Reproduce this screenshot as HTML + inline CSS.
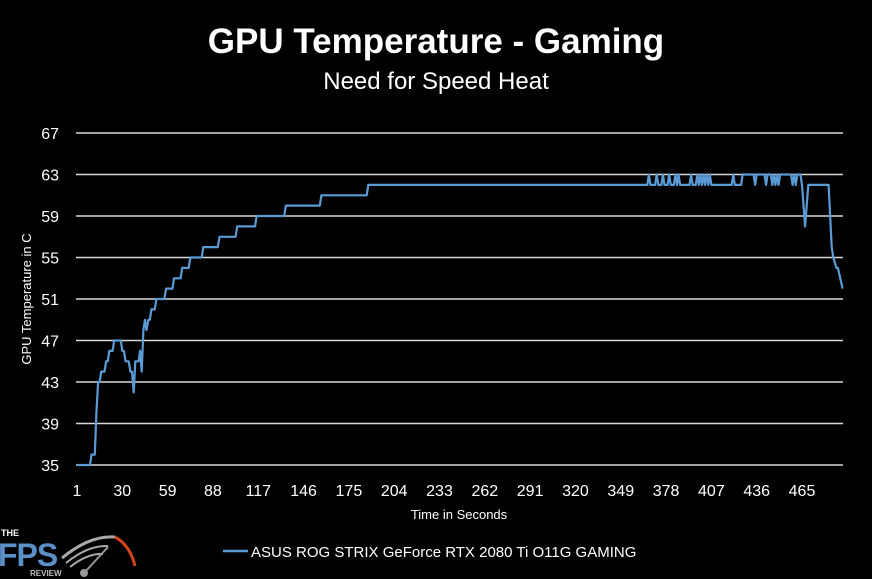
<!DOCTYPE html>
<html><head><meta charset="utf-8"><style>
html,body{margin:0;padding:0;background:#000;}
svg{display:block;font-family:"Liberation Sans",sans-serif;}
</style></head><body>
<svg id="chart" width="872" height="579" viewBox="0 0 872 579">
<rect width="872" height="579" fill="#000"/>
<text x="436" y="53" text-anchor="middle" fill="#fff" font-size="35" font-weight="bold">GPU Temperature - Gaming</text>
<text x="436" y="89" text-anchor="middle" fill="#fff" font-size="24">Need for Speed Heat</text>
<g id="grid"></g>
<g id="yticks"></g>
<g id="xticks"></g>
<g id="series"></g>
<text x="459" y="519" text-anchor="middle" fill="#fff" font-size="13">Time in Seconds</text>
<text transform="translate(31,299) rotate(-90)" text-anchor="middle" fill="#fff" font-size="13">GPU Temperature in C</text>
<g>
<line x1="223" y1="551" x2="248" y2="551" stroke="#5b9bd5" stroke-width="2.5"/>
<text x="251" y="557" fill="#fff" font-size="15">ASUS ROG STRIX GeForce RTX 2080 Ti O11G GAMING</text>
</g>
<g>
<text x="1" y="536" fill="#fff" font-size="9" font-weight="bold">THE</text>
<text x="-2" y="566" fill="#5b8fc7" font-size="32" font-weight="bold" letter-spacing="-1">FPS</text>
<text x="30" y="576" fill="#bbb" font-size="8" font-weight="bold">REVIEW</text>
<path d="M62 558 Q90 535 115 537" stroke="#aaa" stroke-width="3" fill="none"/>
<path d="M66 563 Q88 545 108 546" stroke="#aaa" stroke-width="2" fill="none"/>
<path d="M70 567 Q88 553 103 554" stroke="#aaa" stroke-width="2" fill="none"/>
<path d="M115 537 Q130 545 135 566" stroke="#d0451b" stroke-width="3" fill="none"/>
<line x1="85" y1="572" x2="108" y2="547" stroke="#999" stroke-width="2"/>
<circle cx="84" cy="573" r="4" fill="#999"/>
</g>
</svg>
<script>
const yTicks=[35,39,43,47,51,55,59,63,67];
const xTicks=[1,30,59,88,117,146,175,204,233,262,291,320,349,378,407,436,465];
const times=[1,9.3,10.3,12.4,13.4,14.5,15.5,16.5,18.6,19.6,20.7,21.7,23.8,24.8,29,30,31,32.1,34.1,35.2,36.2,37.3,38.3,40.4,41.4,42.4,43.5,44.5,45.5,46.6,47.6,48.6,50.7,51.8,56.9,58,62.1,63.1,67.3,68.3,72.5,73.5,80.8,81.8,91.1,92.2,102.5,103.5,114.9,116,133.6,134.6,156.4,157.4,186.4,187.4,241.3,242.3,366,367,368,371,372,373,375,376,377,379,380,381,383,384,385,386,387,393,394,395,397,398,399,400,401,402,403,404,405,406,407,420,421,422,426,427,434,435,436,441,442,443,445,446,447,448,449,450,451,458,459,460,461,462,464,465,467,469,482,484,485,487,488,491];
const temps=[35,35,36,36,40,43,43,44,44,45,45,46,46,47,47,46,46,45,45,44,44,42,45,45,46,44,48,49,48,49,49,50,50,51,51,52,52,53,53,54,54,55,55,56,56,57,57,58,58,59,59,60,60,61,61,62,62,62,62,63,62,62,63,62,62,63,62,62,63,62,62,63,62,63,62,62,63,62,62,63,62,63,62,63,62,63,62,63,62,62,63,62,62,63,63,62,63,63,62,63,63,62,63,62,63,62,63,63,62,63,62,63,63,62,58,62,62,56,55,54,54,52];
const X0=77,X1=802,T0=1,T1=465,L=76,R=843,YT=133,YB=465,V0=35,V1=67;
function xs(t){return X0+(t-T0)*(X1-X0)/(T1-T0);}
function ys(v){return YB-(v-V0)*(YB-YT)/(V1-V0);}
const NS="http://www.w3.org/2000/svg";
const grid=document.getElementById('grid'),yt=document.getElementById('yticks'),xt=document.getElementById('xticks'),ser=document.getElementById('series');
yTicks.forEach(v=>{
 const l=document.createElementNS(NS,'line');
 
 
 l.setAttribute('x1',L);l.setAttribute('x2',R);l.setAttribute('y1',ys(v));l.setAttribute('y2',ys(v));
 l.setAttribute('stroke','#d9d9d9');l.setAttribute('stroke-width','1.5');
 grid.appendChild(l);
 const t=document.createElementNS(NS,'text');
 
 
 t.setAttribute('x',59);t.setAttribute('y',ys(v)+6);t.setAttribute('text-anchor','end');
 t.setAttribute('fill','#fff');t.setAttribute('font-size','16');t.textContent=v;
 yt.appendChild(t);
});
xTicks.forEach(v=>{
 const t=document.createElementNS(NS,'text');
 
 
 t.setAttribute('x',xs(v));t.setAttribute('y',496);t.setAttribute('text-anchor','middle');
 t.setAttribute('fill','#fff');t.setAttribute('font-size','16');t.textContent=v;
 xt.appendChild(t);
});
const p=document.createElementNS(NS,'polyline');


p.setAttribute('points',times.map((t,i)=>xs(t).toFixed(1)+','+ys(temps[i]).toFixed(1)).join(' '));
p.setAttribute('fill','none');p.setAttribute('stroke','#5b9bd5');p.setAttribute('stroke-width','2.2');p.setAttribute('stroke-linejoin','round');
ser.appendChild(p);
</script>
</body></html>
